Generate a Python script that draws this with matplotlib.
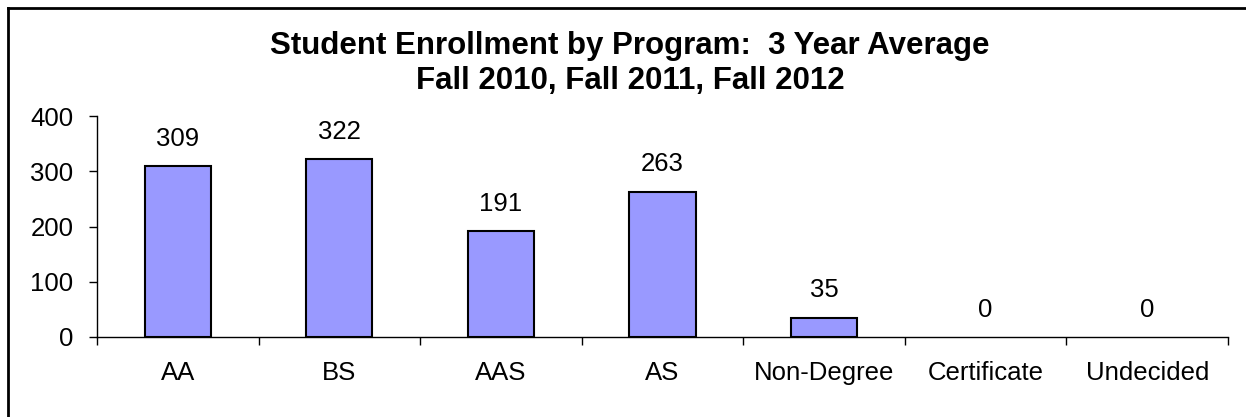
import matplotlib
matplotlib.use("Agg")
import matplotlib.pyplot as plt
import numpy as np

categories = ["AA", "BS", "AAS", "AS", "Non-Degree", "Certificate", "Undecided"]
values = [309, 322, 191, 263, 35, 0, 0]
yticks = [0, 100, 200, 300, 400]

plt.rcParams['font.family'] = ['Liberation Sans', 'DejaVu Sans']

fig = plt.figure(figsize=(12.46, 4.17), dpi=100)
ax = fig.add_axes([97/1246, 80/417, (1228-97)/1246, (337-116)/417])

x = np.arange(len(categories))
bars = ax.bar(x, values, width=0.41, color="#9999FF", edgecolor="black", linewidth=1.5, zorder=3)
for b, v in zip(bars, values):
    if v == 0:
        b.set_linewidth(0)
for xi, v in zip(x, values):
    ax.annotate(str(v), (xi, v), xytext=(0, 11), textcoords="offset points",
                ha="center", va="bottom", fontsize=18.5)

ax.set_xlim(-0.5, len(categories) - 0.5)
ax.set_ylim(0, 400)
ax.set_yticks(yticks)
ax.set_yticklabels([str(t) for t in yticks], fontsize=18.5)
ax.set_xticks(x)
ax.set_xticklabels(categories, fontsize=18.5)
ax.tick_params(axis="x", length=0, pad=17)
ax.set_xticks(np.arange(len(categories) + 1) - 0.5, minor=True)
ax.tick_params(axis="x", which="minor", length=6, width=1, direction="out")
ax.tick_params(axis="y", length=6, width=1, direction="out", pad=11)
for s in ["top", "right"]:
    ax.spines[s].set_visible(False)
for s in ["left", "bottom"]:
    ax.spines[s].set_linewidth(1)

fig.text(630/1246, 1 - 46/417, "Student Enrollment by Program:  3 Year Average",
         ha="center", va="center", fontsize=22.5, fontweight="bold")
fig.text(630/1246, 1 - 81/417, "Fall 2010, Fall 2011, Fall 2012",
         ha="center", va="center", fontsize=22.5, fontweight="bold")

# outer chart border (top and left visible)
fig.add_artist(plt.Line2D([7.5/1246, 1], [1 - 7.5/417, 1 - 7.5/417], color="black", lw=2, transform=fig.transFigure))
fig.add_artist(plt.Line2D([7.5/1246, 7.5/1246], [0, 1 - 7.5/417], color="black", lw=2, transform=fig.transFigure))

fig.savefig("out.png", dpi=100)
